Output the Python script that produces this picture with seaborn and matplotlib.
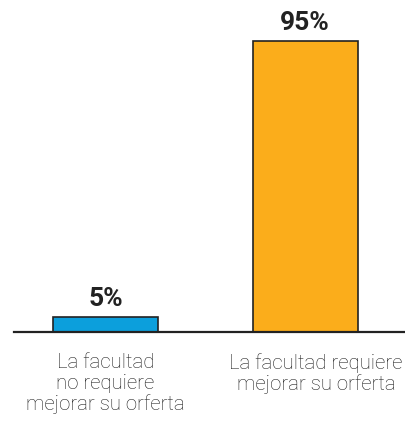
import matplotlib
matplotlib.use("Agg")
import matplotlib.pyplot as plt
import matplotlib.transforms as mtransforms
import seaborn as sns
import pandas as pd

categories = ["La facultad\nno requiere\nmejorar su orferta", "La facultad requiere\nmejorar su orferta"]
values = [5, 95]
labels = ["5%", "95%"]
colors = ["#0c9fdc", "#fbad1b"]

sns.set_theme(style="white")
plt.rcParams['font.family'] = ['Roboto', 'DejaVu Sans']

fig = plt.figure(figsize=(4.05, 4.23), dpi=100)
ax = fig.add_axes([14/405, (423-332)/423, 1 - 14/405, 332/423])

df = pd.DataFrame({"cat": categories, "val": values})
sns.barplot(data=df, x="cat", y="val", hue="cat", palette=colors, width=0.525,
            edgecolor="#222222", linewidth=1.2, legend=False, ax=ax, saturation=1)

ax.set_xlim(-0.4575, 1.5)
ax.set_ylim(0, 95 * 332 / 291)
for i, (v, t) in enumerate(zip(values, labels)):
    ax.annotate(t, (i, v), xytext=(0, 4), textcoords="offset points",
                ha="center", va="bottom", fontsize=19, fontweight="bold", color="#222222")

for s in ["top", "left", "right"]:
    ax.spines[s].set_visible(False)
ax.spines["bottom"].set_color("#222222")
ax.spines["bottom"].set_linewidth(1.6)
ax.set_yticks([])
ax.set_xlabel("")
ax.set_ylabel("")
ax.tick_params(axis="x", length=0, pad=15, labelsize=14.7, labelcolor="#1e1e1e")
ticklabels = ax.get_xticklabels()
for lbl in ticklabels:
    lbl.set_linespacing(1.12)
    lbl.set_fontweight("light")
ticklabels[1].set_transform(ticklabels[1].get_transform() +
                            mtransforms.ScaledTranslation(11/100, 0, fig.dpi_scale_trans))

fig.savefig("out.png", dpi=100)
